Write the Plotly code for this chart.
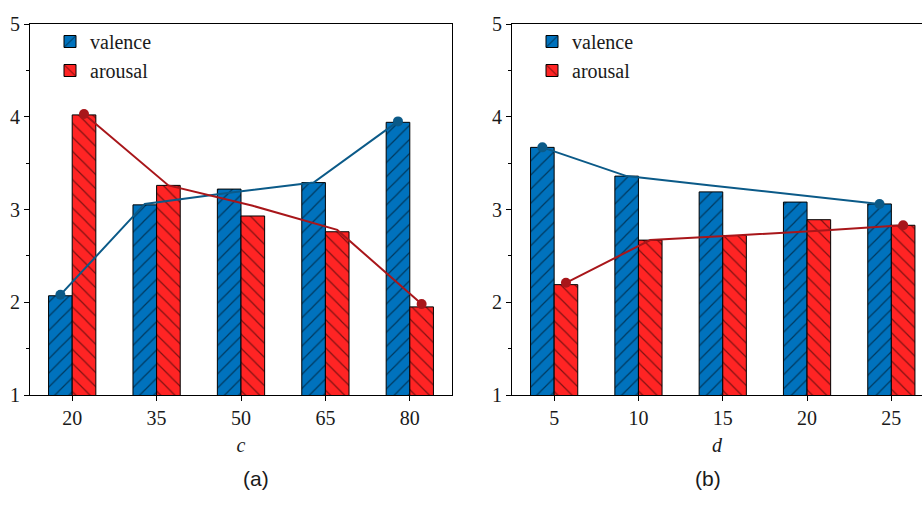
import plotly.graph_objects as go

# ---------------- data ----------------
c_labels = ["20", "35", "50", "65", "80"]
c_valence = [2.07, 3.05, 3.22, 3.29, 3.94]
c_arousal = [4.02, 3.26, 2.93, 2.76, 1.95]
c_valence_line = [2.08, 3.06, 3.18, 3.29, 3.95]
c_arousal_line = [4.03, 3.26, 3.04, 2.78, 1.98]

d_labels = ["5", "10", "15", "20", "25"]
d_valence = [3.67, 3.36, 3.19, 3.08, 3.06]
d_arousal = [2.19, 2.67, 2.72, 2.89, 2.83]
d_valence_line = [3.67, 3.36, 3.26, 3.16, 3.06]
d_arousal_line = [2.21, 2.67, 2.72, 2.77, 2.83]

# ---------------- style ----------------
BLUE = "#0072BD"
RED = "#FF2424"
BLUE_LINE = "#0B5A88"
RED_LINE = "#A8161A"
TXT = "#1a1a1a"
BAR_W = 0.28
SERIF = "Liberation Serif"
SANS = "Liberation Sans"
W, H = 922, 505

fig = go.Figure()


def add_panel(labels, val, aro, val_line, aro_line, xa, ya, legend):
    idx = list(range(len(labels)))
    fig.add_trace(go.Bar(
        x=idx, y=val, width=BAR_W, offset=-BAR_W,
        name="valence", xaxis=xa, yaxis=ya, legend=legend,
        marker=dict(color=BLUE, line=dict(color="black", width=1),
                    pattern=dict(shape="/", size=10, solidity=0.12,
                                 fgcolor="black", bgcolor=BLUE)),
    ))
    fig.add_trace(go.Bar(
        x=idx, y=aro, width=BAR_W, offset=0,
        name="arousal", xaxis=xa, yaxis=ya, legend=legend,
        marker=dict(color=RED, line=dict(color="black", width=1),
                    pattern=dict(shape="\\", size=10, solidity=0.12,
                                 fgcolor="black", bgcolor=RED)),
    ))
    n = len(labels)
    msize = [10] + [0] * (n - 2) + [10]
    fig.add_trace(go.Scatter(
        x=[i - BAR_W / 2 for i in idx], y=val_line, mode="lines+markers",
        line=dict(color=BLUE_LINE, width=2),
        marker=dict(size=msize, color=BLUE_LINE, opacity=1, line=dict(width=0)),
        xaxis=xa, yaxis=ya, showlegend=False,
    ))
    fig.add_trace(go.Scatter(
        x=[i + BAR_W / 2 for i in idx], y=aro_line, mode="lines+markers",
        line=dict(color=RED_LINE, width=2),
        marker=dict(size=msize, color=RED_LINE, opacity=1, line=dict(width=0)),
        xaxis=xa, yaxis=ya, showlegend=False,
    ))


add_panel(c_labels, c_valence, c_arousal, c_valence_line, c_arousal_line, "x", "y", "legend")
add_panel(d_labels, d_valence, d_arousal, d_valence_line, d_arousal_line, "x2", "y2", "legend2")

ydom = [1 - 395 / H, 1 - 24 / H]


def xaxis_cfg(domain, rng, labels, title, mirror):
    return dict(
        domain=domain, range=rng, tickvals=list(range(len(labels))), ticktext=labels,
        showgrid=False, zeroline=False, showline=True, linecolor="black", linewidth=1,
        mirror=mirror, ticks="outside", ticklen=5, tickcolor="black", automargin=False,
        tickfont=dict(family=SERIF, size=20, color=TXT),
        title=dict(text=title, font=dict(family=SERIF, size=20, color=TXT), standoff=9),
    )


def yaxis_cfg(anchor, mirror):
    return dict(
        anchor=anchor, domain=ydom, range=[1, 5], dtick=1, tick0=1,
        showgrid=False, zeroline=False, showline=True, linecolor="black", linewidth=1,
        mirror=mirror, ticks="outside", ticklen=5, tickcolor="black", automargin=False,
        tickfont=dict(family=SERIF, size=20, color=TXT),
        minor=dict(ticks="outside", ticklen=3, dtick=0.5, tickcolor="black", showgrid=False),
    )


fig.update_layout(
    width=W, height=H,
    margin=dict(l=0, r=0, t=0, b=0),
    paper_bgcolor="white", plot_bgcolor="white",
    barmode="overlay",
    xaxis=xaxis_cfg([30 / W, 452 / W], [-0.5, 4.5], c_labels, "<i>c</i>", True),
    yaxis=yaxis_cfg("x", True),
    xaxis2=dict(xaxis_cfg([512 / W, 1.0], [-0.5, -0.5 + 410 / 84.3], d_labels, "<i>d</i>", True),
                anchor="y2"),
    yaxis2=yaxis_cfg("x2", False),
    legend=dict(x=50 / W, y=1 - 22 / H, xanchor="left", yanchor="top",
                bgcolor="rgba(0,0,0,0)", font=dict(family=SERIF, size=20, color=TXT),
                tracegroupgap=0, itemwidth=30),
    legend2=dict(x=532 / W, y=1 - 22 / H, xanchor="left", yanchor="top",
                 bgcolor="rgba(0,0,0,0)", font=dict(family=SERIF, size=20, color=TXT),
                 tracegroupgap=0, itemwidth=30),
    annotations=[
        dict(text="(a)", x=241 / W, y=1 - 492 / H, xref="paper", yref="paper",
             showarrow=False, font=dict(family=SANS, size=21, color=TXT)),
        dict(text="(b)", x=723 / W, y=1 - 492 / H, xref="paper", yref="paper",
             showarrow=False, font=dict(family=SANS, size=21, color=TXT)),
    ],
)

fig.write_html("out.html")
